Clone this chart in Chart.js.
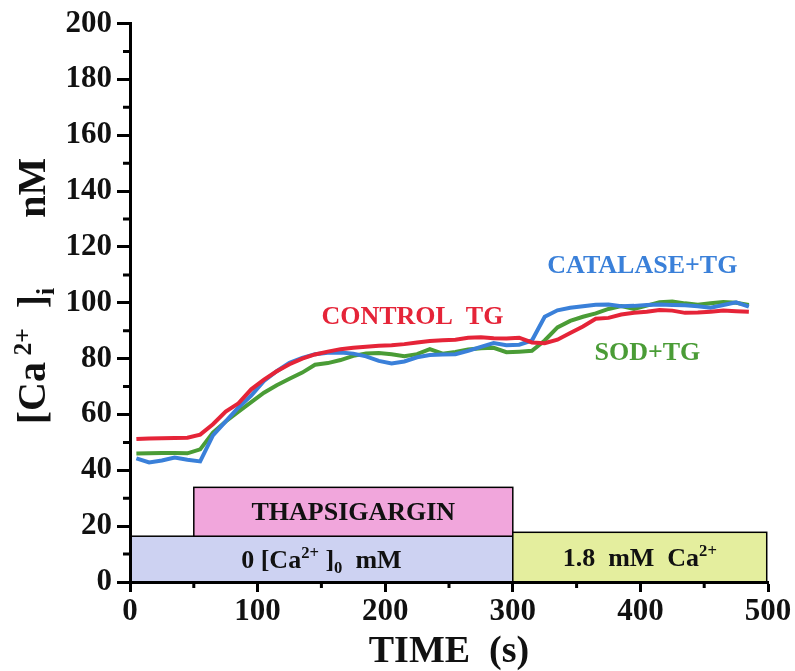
<!DOCTYPE html>
<html>
<head>
<meta charset="utf-8">
<script src="https://cdn.jsdelivr.net/npm/chart.js@4.4.1/dist/chart.umd.min.js"></script>
<style>
  html, body { margin: 0; padding: 0; background: #fff; }
</style>
</head>
<body>
<canvas id="myChart" width="795" height="671"></canvas>
<script>
// tempo em segundos (amostras a cada 10 s)
const tempo = [5, 15, 25, 35, 45, 55, 65, 75, 85, 95, 105, 115, 125, 135, 145, 155, 165, 175, 185, 195,
  205, 215, 225, 235, 245, 255, 265, 275, 285, 295, 305, 315, 325, 335, 345, 355, 365, 375, 385, 395,
  405, 415, 425, 435, 445, 455, 465, 475, 485];

// [Ca2+]i em nM
const controlTG = [51.2, 51.4, 51.5, 51.6, 51.7, 52.8, 56.5, 61, 64, 69, 72.5, 75.5, 78, 80, 81.5, 82.5, 83.4, 83.9, 84.3, 84.6,
  84.8, 85.2, 85.8, 86.3, 86.6, 86.8, 87.5, 87.7, 87.3, 87.2, 87.5, 85.8, 85.5, 86.8, 89.2, 91.5, 94.3, 94.6, 95.8, 96.4,
  96.8, 97.4, 97.2, 96.4, 96.5, 96.8, 97.2, 97.0, 96.8];
const catalaseTG = [44.3, 42.8, 43.5, 44.6, 43.8, 43.2, 52.5, 57.5, 62.5, 66.8, 72, 75.5, 78.5, 80.3, 81.6, 82.1, 82.2, 81.8, 80.8, 79.2,
  78.3, 79, 80.5, 81.3, 81.5, 81.6, 82.8, 84.2, 85.6, 84.8, 85, 86.5, 95, 97.3, 98.2, 98.8, 99.3, 99.4, 98.8, 98.9,
  99.2, 99.4, 99.2, 99.1, 98.8, 98.2, 99.2, 100.2, 98.6];
const sodTG = [46, 46.1, 46.2, 46.2, 46.1, 47.5, 53.5, 57.5, 61, 64.4, 67.8, 70.5, 72.8, 75, 77.8, 78.4, 79.5, 81, 81.8, 82,
  81.6, 80.9, 81.6, 83.4, 81.8, 82.4, 83.3, 83.7, 83.9, 82.3, 82.5, 82.8, 86.5, 91.2, 93.5, 95, 96.2, 97.8, 98.8, 97.8,
  99, 100.2, 100.5, 99.8, 99.3, 99.8, 100.3, 100, 99.2];

// nomes das curvas e onde ficam escritos (em unidades dos eixos)
const nomesCurvas = ['CONTROL  TG', 'CATALASE+TG', 'SOD+TG'];
const nomeX = [150, 327, 364];
const nomeY = [94.8, 113, 82];

// barras de protocolo (tempo inicial/final e altura em nM)
const faixaInicio = [0, 50, 300];
const faixaFim = [300, 300, 499];
const faixaBase = [0, 16.4, 0];
const faixaTopo = [16.4, 33.9, 17.8];
const faixaCor = ['#cdd2f2', '#f1a6dc', '#e4ee9e'];
const faixaTexto = [
  [['0 [Ca', ''], ['2+', 'sup'], [' ]', ''], ['0', 'sub'], ['  mM', '']],
  [['THAPSIGARGIN', '']],
  [['1.8  mM  Ca', ''], ['2+', 'sup']]
];

const corVermelho = '#e52438';
const corAzul = '#3a80d9';
const corVerde = '#4a9c36';
const fonte = '"Liberation Serif", "Times New Roman", serif';

// escreve texto com partes sobrescritas/subscritas, centrado em x
function escreverPartes(ctx, partes, x, y, size) {
  let total = 0;
  const medidas = partes.map(([t, k]) => {
    const s = k ? size * 0.64 : size;
    ctx.font = `bold ${s}px ${fonte}`;
    const w = ctx.measureText(t).width;
    total += w;
    return { t, k, s, w };
  });
  let cx = x - total / 2;
  ctx.textAlign = 'left';
  ctx.textBaseline = 'alphabetic';
  for (const p of medidas) {
    ctx.font = `bold ${p.s}px ${fonte}`;
    const dy = p.k === 'sup' ? -size * 0.36 : p.k === 'sub' ? size * 0.22 : 0;
    ctx.fillText(p.t, cx, y + dy);
    cx += p.w;
  }
}

const faixasPlugin = {
  id: 'faixas',
  beforeDraw(chart) {
    const { ctx, scales: { x, y } } = chart;
    ctx.save();
    for (let i = 0; i < faixaInicio.length; i++) {
      const x0 = x.getPixelForValue(faixaInicio[i]);
      const x1 = x.getPixelForValue(faixaFim[i]);
      const y0 = y.getPixelForValue(faixaBase[i]);
      const y1 = y.getPixelForValue(faixaTopo[i]);
      ctx.fillStyle = faixaCor[i];
      ctx.fillRect(x0, y1, x1 - x0, y0 - y1);
      ctx.strokeStyle = '#000';
      ctx.lineWidth = 1.5;
      ctx.strokeRect(x0, y1, x1 - x0, y0 - y1);
      ctx.fillStyle = '#111';
      escreverPartes(ctx, faixaTexto[i], (x0 + x1) / 2, (y0 + y1) / 2 + 8.5, 26);
    }
    ctx.restore();
  },
  afterDraw(chart) {
    const { ctx, scales: { x, y } } = chart;
    ctx.save();
    // marcas menores dos eixos
    ctx.strokeStyle = '#000';
    ctx.lineWidth = 3;
    ctx.beginPath();
    for (let v = 10; v < 200; v += 20) {
      const py = y.getPixelForValue(v);
      ctx.moveTo(y.right - 7, py);
      ctx.lineTo(y.right, py);
    }
    for (let v = 50; v < 500; v += 100) {
      const px = x.getPixelForValue(v);
      ctx.moveTo(px, x.top);
      ctx.lineTo(px, x.top + 6);
    }
    ctx.stroke();

    // título do eixo y
    ctx.translate(45, 291);
    ctx.rotate(-Math.PI / 2);
    ctx.fillStyle = '#111';
    escreverPartes(ctx, [['[Ca', ''], [' 2+', 'sup'], ['  ]', ''], ['i', 'sub'], ['       nM', '']], 0, 0, 40);
    ctx.restore();
  },
  afterDatasetsDraw(chart) {
    const { ctx, scales: { x, y } } = chart;
    const cores = [corVermelho, corAzul, corVerde];
    ctx.save();
    ctx.font = `bold 26px ${fonte}`;
    ctx.textAlign = 'left';
    ctx.textBaseline = 'middle';
    nomesCurvas.forEach((nome, i) => {
      ctx.fillStyle = cores[i];
      ctx.fillText(nome, x.getPixelForValue(nomeX[i]), y.getPixelForValue(nomeY[i]));
    });
    ctx.restore();
  }
};

function pontos(valores) {
  return tempo.map((t, i) => ({ x: t, y: valores[i] }));
}

const ctx = document.getElementById('myChart');

new Chart(ctx, {
  type: 'line',
  data: {
    datasets: [
      { label: 'CONTROL TG', data: pontos(controlTG), borderColor: corVermelho },
      { label: 'CATALASE+TG', data: pontos(catalaseTG), borderColor: corAzul },
      { label: 'SOD+TG', data: pontos(sodTG), borderColor: corVerde }
    ]
  },
  options: {
    responsive: false,
    animation: false,
    devicePixelRatio: 1,
    elements: {
      line: { borderWidth: 4, tension: 0, fill: false },
      point: { radius: 0 }
    },
    layout: { padding: { top: 21, right: 27, left: 0, bottom: 0 } },
    plugins: {
      legend: { display: false },
      tooltip: { enabled: false }
    },
    scales: {
      x: {
        type: 'linear',
        min: 0,
        max: 500,
        afterFit: (s) => { s.height = 89; },
        ticks: {
          stepSize: 100,
          color: '#111',
          padding: 1,
          font: { family: fonte, size: 31, weight: 'bold' }
        },
        grid: { drawOnChartArea: false, tickLength: 10, tickWidth: 3, tickColor: '#000' },
        border: { color: '#000', width: 3 },
        title: {
          display: true,
          text: 'TIME  (s)',
          color: '#111',
          font: { family: fonte, size: 38, weight: 'bold', lineHeight: 1 },
          padding: { top: 0, bottom: 0 }
        }
      },
      y: {
        min: 0,
        max: 200,
        afterFit: (s) => { s.width = 130; },
        ticks: {
          stepSize: 20,
          color: '#111',
          padding: 5,
          font: { family: fonte, size: 31, weight: 'bold' }
        },
        grid: { drawOnChartArea: false, tickLength: 13, tickWidth: 3, tickColor: '#000' },
        border: { color: '#000', width: 3 }
      }
    }
  },
  plugins: [faixasPlugin]
});
</script>
</body>
</html>
